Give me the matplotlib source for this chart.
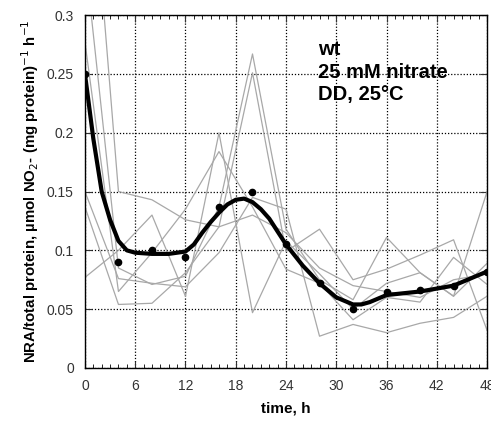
import matplotlib
matplotlib.use("Agg")
import matplotlib.pyplot as plt
import numpy as np

plt.rcParams['font.family'] = ['Liberation Sans', 'DejaVu Sans']

# sampling times of the replicate runs (h)
times = [0, 4, 8, 12, 16, 20, 24, 28, 32, 36, 40, 44, 48]

rep1 = [0.35, 0.085, 0.071, 0.078, 0.137, 0.267, 0.118, 0.075, 0.058, 0.111, 0.081, 0.061, 0.150]
rep2 = [0.50, 0.150, 0.143, 0.126, 0.120, 0.251, 0.099, 0.118, 0.075, 0.084, 0.096, 0.109, 0.032]
rep3 = [0.277, 0.065, 0.098, 0.135, 0.184, 0.137, 0.084, 0.072, 0.041, 0.060, 0.056, 0.094, 0.071]
rep4 = [0.150, 0.076, 0.072, 0.069, 0.098, 0.145, 0.135, 0.027, 0.037, 0.030, 0.038, 0.043, 0.061]
rep5 = [0.077, 0.100, 0.130, 0.061, 0.200, 0.047, 0.108, 0.080, 0.050, 0.072, 0.081, 0.061, 0.089]
rep6 = [0.137, 0.054, 0.055, 0.081, 0.120, 0.130, 0.115, 0.085, 0.070, 0.065, 0.060, 0.075, 0.080]

# mean values
mean_vals = [0.250, 0.090, 0.100, 0.094, 0.137, 0.150, 0.105, 0.072, 0.050, 0.065, 0.066, 0.070, 0.082]

# smoothed fit
fit_t = [0, 1, 2, 3, 4, 5, 6, 8, 10, 12, 13, 14, 15, 16, 17, 18, 19, 20, 21, 22,
         24, 26, 28, 30, 32, 33, 34, 36, 40, 44, 48]
fit_v = [0.250, 0.195, 0.150, 0.126, 0.108, 0.100, 0.098, 0.097, 0.097, 0.099, 0.105,
         0.115, 0.124, 0.132, 0.139, 0.143, 0.144, 0.141, 0.135, 0.127, 0.105, 0.087,
         0.072, 0.060, 0.054, 0.054, 0.056, 0.062, 0.065, 0.070, 0.082]

fig = plt.figure(figsize=(4.91, 4.21), dpi=100)
ax = fig.add_axes([0.173, 0.126, 0.819, 0.838])

for rep in [rep1, rep2, rep3, rep4, rep5, rep6]:
    ax.plot(times, rep, color='#a8a8a8', lw=0.9, zorder=2)

ax.plot(fit_t, fit_v, color='black', lw=3, zorder=3)
ax.plot(times, mean_vals, 'o', color='black', ms=4.5, zorder=4)

ax.set_xlim(0, 48)
ax.set_ylim(0, 0.3)
ax.set_xticks(range(0, 49, 6))
ax.set_xticks(range(0, 49, 1), minor=True)
ax.set_yticks([0, 0.05, 0.1, 0.15, 0.2, 0.25, 0.3])
ax.set_yticklabels(['0', '0.05', '0.1', '0.15', '0.2', '0.25', '0.3'])
ax.tick_params(direction='in', top=True, right=True, labelsize=10, length=5, pad=8, colors='#333333')
ax.tick_params(which='minor', direction='in', top=True, length=3)
ax.grid(True, which='major', color='black', ls=(0, (1, 1.5)), lw=0.9)
for s in ax.spines.values():
    s.set_linewidth(1.0)

ax.set_xlabel('time, h', fontsize=11, fontweight='bold', labelpad=6)
ax.set_ylabel(r'NRA/total protein, µmol NO$_2$- (mg protein)$^{-1}$ h$^{-1}$',
              fontsize=10.8, fontweight='bold', labelpad=4)

ax.text(0.58, 0.93, 'wt\n25 mM nitrate\nDD, 25\u00b0C', transform=ax.transAxes,
        fontsize=14.5, fontweight='bold', va='top', ha='left', linespacing=1.25)

fig.savefig('out.png', dpi=100)
